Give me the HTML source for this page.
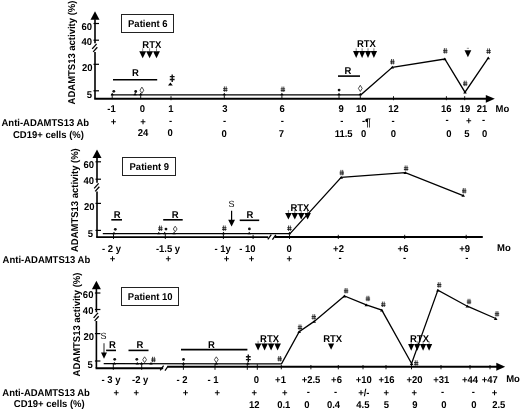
<!DOCTYPE html>
<html><head><meta charset="utf-8"><style>
html,body{margin:0;padding:0;background:#fff;}
svg{display:block;will-change:transform;}
text{font-family:"Liberation Sans",sans-serif;fill:#000;stroke:none;text-rendering:geometricPrecision;}
</style></head><body>
<svg width="520" height="411" viewBox="0 0 520 411" stroke="#000" fill="#000">
<g stroke="none">
</g>
<polygon points="90.5,19.7 99.5,19.7 95,11.2" stroke="none"/>
<line x1="95" y1="19.2" x2="95" y2="43.2" stroke-width="1.6"/>
<line x1="95" y1="52" x2="95" y2="98.5" stroke-width="1.6"/>
<line x1="92.2" y1="48.9" x2="96.6" y2="43.9" stroke-width="1.3"/>
<line x1="93.2" y1="51.9" x2="97.3" y2="47.3" stroke-width="1.3"/>
<line x1="93.5" y1="23.5" x2="99" y2="23.5" stroke-width="1.2"/>
<line x1="93.5" y1="40.2" x2="99" y2="40.2" stroke-width="1.2"/>
<line x1="93.5" y1="64.3" x2="99" y2="64.3" stroke-width="1.2"/>
<line x1="93.5" y1="90.8" x2="99" y2="90.8" stroke-width="1.2"/>
<text transform="translate(92,29.7) scale(0.96,1)" text-anchor="end" font-size="9.9" font-weight="bold">60</text>
<text transform="translate(92,45.2) scale(0.96,1)" text-anchor="end" font-size="9.9" font-weight="bold">40</text>
<text transform="translate(92.6,70.5) scale(0.96,1)" text-anchor="end" font-size="9.9" font-weight="bold">20</text>
<text transform="translate(92,97.7) scale(0.96,1)" text-anchor="end" font-size="9.9" font-weight="bold">5</text>
<text transform="translate(74.8,104.4) rotate(-90) scale(0.96,1)" font-size="9.9" font-weight="bold">ADAMTS13 activity (%)</text>
<line x1="94.2" y1="98.8" x2="487" y2="98.8" stroke-width="2"/>
<polygon points="485.8,95.0 485.8,102.8 494.8,98.8" stroke="none"/>
<rect x="121.5" y="14.5" width="52" height="18" fill="none" stroke="#222" stroke-width="1"/>
<text transform="translate(147.8,27.2) scale(0.96,1)" text-anchor="middle" font-size="9.9" font-weight="bold">Patient 6</text>
<text transform="translate(151.8,47.5) scale(0.96,1)" text-anchor="middle" font-size="9.9" font-weight="bold">RTX</text>
<polygon points="139.25,51.2 146.14999999999998,51.2 142.7,58.2" stroke="none"/>
<polygon points="146.15,51.2 153.04999999999998,51.2 149.6,58.2" stroke="none"/>
<polygon points="153.05,51.2 159.95,51.2 156.5,58.2" stroke="none"/>
<line x1="142.7" y1="48.3" x2="142.7" y2="51.3" stroke-width="0.5"/>
<line x1="149.6" y1="48.3" x2="149.6" y2="51.3" stroke-width="0.5"/>
<line x1="156.5" y1="48.3" x2="156.5" y2="51.3" stroke-width="0.5"/>
<text transform="translate(135.4,76.1) scale(0.96,1)" text-anchor="middle" font-size="9.9" font-weight="bold">R</text>
<line x1="113" y1="79.8" x2="157.2" y2="79.8" stroke-width="1.6"/>
<path d="M172.2,74.4V82.0M169.79999999999998,76.604H174.6M169.79999999999998,79.492H174.6" stroke="#111" stroke-width="1.4" fill="none"/>
<polygon points="168.0,85.6 172.8,85.6 170.4,82.6" stroke="none"/>
<text transform="translate(366.4,47.1) scale(0.96,1)" text-anchor="middle" font-size="9.9" font-weight="bold">RTX</text>
<polygon points="353.05,51 359.34999999999997,51 356.2,58.1" stroke="none"/>
<polygon points="358.95000000000005,51 365.25,51 362.1,58.1" stroke="none"/>
<polygon points="364.85,51 371.15,51 368.0,58.1" stroke="none"/>
<polygon points="370.75,51 377.04999999999995,51 373.9,58.1" stroke="none"/>
<line x1="356.2" y1="48.3" x2="356.2" y2="51.1" stroke-width="0.5"/>
<line x1="362.1" y1="48.3" x2="362.1" y2="51.1" stroke-width="0.5"/>
<line x1="368.0" y1="48.3" x2="368.0" y2="51.1" stroke-width="0.5"/>
<line x1="373.9" y1="48.3" x2="373.9" y2="51.1" stroke-width="0.5"/>
<text transform="translate(347.8,74.3) scale(0.96,1)" text-anchor="middle" font-size="9.9" font-weight="bold">R</text>
<line x1="338" y1="76.1" x2="360" y2="76.1" stroke-width="1.6"/>
<line x1="466.8" y1="48.3" x2="469" y2="48.3" stroke="#888" stroke-width="0.9"/>
<polygon points="464.5,50.3 471.29999999999995,50.3 467.9,57.199999999999996" stroke="none"/>
<polyline points="111.0,94.8 360.9,94.8 392.3,67.3 444.8,59.0 465.0,92.2 488.3,57.9" fill="none" stroke-width="1.3" stroke-linejoin="miter"/>
<polygon points="110.5,95.3 113.9,95.3 112.2,92.8" stroke="none"/>
<polygon points="133.4,95.3 136.79999999999998,95.3 135.1,92.8" stroke="none"/>
<polygon points="139.0,95.3 142.39999999999998,95.3 140.7,92.8" stroke="none"/>
<polygon points="222.60000000000002,95.3 226.0,95.3 224.3,92.8" stroke="none"/>
<polygon points="280.2,95.3 283.59999999999997,95.3 281.9,92.8" stroke="none"/>
<polygon points="337.3,95.3 340.7,95.3 339,92.8" stroke="none"/>
<polygon points="358.6,95.3 362.0,95.3 360.3,92.8" stroke="none"/>
<polygon points="390.5,68.6 394.1,68.6 392.3,65.8" stroke="none"/>
<polygon points="443.0,60.2 446.6,60.2 444.8,57.400000000000006" stroke="none"/>
<polygon points="463.2,93.6 466.8,93.6 465.0,90.8" stroke="none"/>
<polygon points="486.5,59.2 490.1,59.2 488.3,56.400000000000006" stroke="none"/>
<circle cx="113.8" cy="91.3" r="1.4" fill="#111" stroke="none"/>
<circle cx="135.7" cy="91.5" r="1.4" fill="#111" stroke="none"/>
<path d="M141.9,87.1L143.8,90.19999999999999L141.9,93.3L140.0,90.19999999999999Z" stroke="#222" stroke-width="0.8" fill="none"/>
<path d="M224.4,86.39999999999999V91.8M226.20000000000002,86.39999999999999V91.8" stroke="#1a1a1a" stroke-width="0.8" fill="none"/>
<path d="M223.10000000000002,88.66799999999999H227.5M223.10000000000002,90.39599999999999H227.5" stroke="#1a1a1a" stroke-width="0.9" fill="none"/>
<path d="M282.0,86.6V92.0M283.79999999999995,86.6V92.0" stroke="#1a1a1a" stroke-width="0.8" fill="none"/>
<path d="M280.7,88.868H285.09999999999997M280.7,90.59599999999999H285.09999999999997" stroke="#1a1a1a" stroke-width="0.9" fill="none"/>
<circle cx="339.1" cy="90.1" r="1.4" fill="#111" stroke="none"/>
<path d="M360.3,85.3L362.2,88.39999999999999L360.3,91.5L358.40000000000003,88.39999999999999Z" stroke="#222" stroke-width="0.8" fill="none"/>
<path d="M391.5,59.00000000000001V64.4M393.29999999999995,59.00000000000001V64.4" stroke="#1a1a1a" stroke-width="0.8" fill="none"/>
<path d="M390.2,61.26800000000001H394.59999999999997M390.2,62.99600000000001H394.59999999999997" stroke="#1a1a1a" stroke-width="0.9" fill="none"/>
<path d="M444.40000000000003,48.1V53.5M446.2,48.1V53.5" stroke="#1a1a1a" stroke-width="0.8" fill="none"/>
<path d="M443.1,50.368H447.5M443.1,52.096000000000004H447.5" stroke="#1a1a1a" stroke-width="0.9" fill="none"/>
<path d="M464.3,80.69999999999999V86.1M466.09999999999997,80.69999999999999V86.1" stroke="#1a1a1a" stroke-width="0.8" fill="none"/>
<path d="M463.0,82.96799999999999H467.4M463.0,84.69599999999998H467.4" stroke="#1a1a1a" stroke-width="0.9" fill="none"/>
<path d="M487.70000000000005,48.4V53.8M489.5,48.4V53.8" stroke="#1a1a1a" stroke-width="0.8" fill="none"/>
<path d="M486.40000000000003,50.668H490.8M486.40000000000003,52.396H490.8" stroke="#1a1a1a" stroke-width="0.9" fill="none"/>
<line x1="112.2" y1="95.2" x2="112.2" y2="99.2" stroke-width="0.9"/>
<line x1="140.7" y1="95.2" x2="140.7" y2="99.2" stroke-width="0.9"/>
<line x1="224.3" y1="95.2" x2="224.3" y2="99.2" stroke-width="0.9"/>
<line x1="281.9" y1="95.2" x2="281.9" y2="99.2" stroke-width="0.9"/>
<line x1="339" y1="95.2" x2="339" y2="99.2" stroke-width="0.9"/>
<line x1="360.3" y1="95.2" x2="360.3" y2="99.2" stroke-width="0.9"/>
<line x1="171" y1="96.2" x2="171" y2="100.2" stroke-width="0.9"/>
<line x1="393.5" y1="96.2" x2="393.5" y2="100.2" stroke-width="0.9"/>
<line x1="446.4" y1="96.2" x2="446.4" y2="100.2" stroke-width="0.9"/>
<line x1="464.7" y1="96.2" x2="464.7" y2="100.2" stroke-width="0.9"/>
<text transform="translate(111.5,112.0) scale(0.96,1)" text-anchor="middle" font-size="9.9" font-weight="bold">-1</text>
<text transform="translate(142.3,112.0) scale(0.96,1)" text-anchor="middle" font-size="9.9" font-weight="bold">0</text>
<text transform="translate(171,112.0) scale(0.96,1)" text-anchor="middle" font-size="9.9" font-weight="bold">1</text>
<text transform="translate(225,111.5) scale(0.96,1)" text-anchor="middle" font-size="9.9" font-weight="bold">3</text>
<text transform="translate(282.2,111.5) scale(0.96,1)" text-anchor="middle" font-size="9.9" font-weight="bold">6</text>
<text transform="translate(341.1,111.5) scale(0.96,1)" text-anchor="middle" font-size="9.9" font-weight="bold">9</text>
<text transform="translate(361.3,111.5) scale(0.96,1)" text-anchor="middle" font-size="9.9" font-weight="bold">10</text>
<text transform="translate(393.6,112.2) scale(0.96,1)" text-anchor="middle" font-size="9.9" font-weight="bold">12</text>
<text transform="translate(446.2,111.5) scale(0.96,1)" text-anchor="middle" font-size="9.9" font-weight="bold">16</text>
<text transform="translate(464.9,111.5) scale(0.96,1)" text-anchor="middle" font-size="9.9" font-weight="bold">19</text>
<text transform="translate(481.9,112.2) scale(0.96,1)" text-anchor="middle" font-size="9.9" font-weight="bold">21</text>
<text transform="translate(495.6,111.8) scale(0.96,1)" text-anchor="start" font-size="9.9" font-weight="bold">Mo</text>
<text transform="translate(1.5,126.0) scale(0.96,1)" text-anchor="start" font-size="9.9" font-weight="bold">Anti-ADAMTS13 Ab</text>
<text transform="translate(13,137.5) scale(0.96,1)" text-anchor="start" font-size="9.9" font-weight="bold">CD19+ cells (%)</text>
<text transform="translate(113.5,124.9) scale(0.96,1)" text-anchor="middle" font-size="9.9" font-weight="bold">+</text>
<text transform="translate(143.1,124.9) scale(0.96,1)" text-anchor="middle" font-size="9.9" font-weight="bold">+</text>
<text transform="translate(170.5,124.3) scale(0.96,1)" text-anchor="middle" font-size="9.9" font-weight="bold">-</text>
<text transform="translate(224.6,124.3) scale(0.96,1)" text-anchor="middle" font-size="9.9" font-weight="bold">-</text>
<text transform="translate(282.2,124.3) scale(0.96,1)" text-anchor="middle" font-size="9.9" font-weight="bold">-</text>
<text transform="translate(341.7,124.3) scale(0.96,1)" text-anchor="middle" font-size="9.9" font-weight="bold">-</text>
<text transform="translate(393,124.3) scale(0.96,1)" text-anchor="middle" font-size="9.9" font-weight="bold">-</text>
<text transform="translate(447,123.1) scale(0.96,1)" text-anchor="middle" font-size="9.9" font-weight="bold">-</text>
<text transform="translate(468.7,123.7) scale(0.96,1)" text-anchor="middle" font-size="9.9" font-weight="bold">+</text>
<text transform="translate(483.5,123.1) scale(0.96,1)" text-anchor="middle" font-size="9.9" font-weight="bold">-</text>
<text transform="translate(363.5,124.4) scale(0.96,1)" text-anchor="middle" font-size="9.9" font-weight="bold">-</text>
<text transform="translate(365.0,125.7) scale(0.96,1)" text-anchor="start" font-size="10.83" font-weight="bold">¶</text>
<text transform="translate(143,136.4) scale(0.96,1)" text-anchor="middle" font-size="9.9" font-weight="bold">24</text>
<text transform="translate(170.2,136.4) scale(0.96,1)" text-anchor="middle" font-size="9.9" font-weight="bold">0</text>
<text transform="translate(224.1,137.1) scale(0.96,1)" text-anchor="middle" font-size="9.9" font-weight="bold">0</text>
<text transform="translate(281.5,137.1) scale(0.96,1)" text-anchor="middle" font-size="9.9" font-weight="bold">7</text>
<text transform="translate(343.6,137.1) scale(0.96,1)" text-anchor="middle" font-size="9.9" font-weight="bold">11.5</text>
<text transform="translate(363.6,137.1) scale(0.96,1)" text-anchor="middle" font-size="9.9" font-weight="bold">0</text>
<text transform="translate(393.4,137.1) scale(0.96,1)" text-anchor="middle" font-size="9.9" font-weight="bold">0</text>
<text transform="translate(449,137.1) scale(0.96,1)" text-anchor="middle" font-size="9.9" font-weight="bold">0</text>
<text transform="translate(467,137.1) scale(0.96,1)" text-anchor="middle" font-size="9.9" font-weight="bold">5</text>
<text transform="translate(484.6,137.1) scale(0.96,1)" text-anchor="middle" font-size="9.9" font-weight="bold">0</text>
<polygon points="92.5,158.0 101.5,158.0 97,149.5" stroke="none"/>
<line x1="97" y1="157.5" x2="97" y2="182.7" stroke-width="1.6"/>
<line x1="97" y1="191.5" x2="97" y2="237.2" stroke-width="1.6"/>
<line x1="94.2" y1="188.4" x2="98.6" y2="183.4" stroke-width="1.3"/>
<line x1="95.2" y1="191.4" x2="99.3" y2="186.8" stroke-width="1.3"/>
<line x1="95.5" y1="161.8" x2="101" y2="161.8" stroke-width="1.2"/>
<line x1="95.5" y1="179.2" x2="101" y2="179.2" stroke-width="1.2"/>
<line x1="95.5" y1="203.4" x2="101" y2="203.4" stroke-width="1.2"/>
<line x1="95.5" y1="230.4" x2="101" y2="230.4" stroke-width="1.2"/>
<text transform="translate(94,168.20000000000002) scale(0.96,1)" text-anchor="end" font-size="9.9" font-weight="bold">60</text>
<text transform="translate(94,184.4) scale(0.96,1)" text-anchor="end" font-size="9.9" font-weight="bold">40</text>
<text transform="translate(94.6,209.8) scale(0.96,1)" text-anchor="end" font-size="9.9" font-weight="bold">20</text>
<text transform="translate(93,237.29999999999998) scale(0.96,1)" text-anchor="end" font-size="9.9" font-weight="bold">5</text>
<text transform="translate(77.9,252.0) rotate(-90) scale(0.96,1)" font-size="9.9" font-weight="bold">ADAMTS13 activity (%)</text>
<line x1="96.2" y1="237.2" x2="268.2" y2="237.2" stroke-width="1.8"/>
<line x1="274.6" y1="237.0" x2="482.8" y2="237.0" stroke-width="1.8"/>
<rect x="122.5" y="157.5" width="53" height="18" fill="none" stroke="#222" stroke-width="1"/>
<text transform="translate(149.3,170.4) scale(0.96,1)" text-anchor="middle" font-size="9.9" font-weight="bold">Patient 9</text>
<text transform="translate(117.2,218) scale(0.96,1)" text-anchor="middle" font-size="9.9" font-weight="bold">R</text>
<line x1="111.3" y1="219.8" x2="122" y2="219.8" stroke-width="1.6"/>
<text transform="translate(175.1,218) scale(0.96,1)" text-anchor="middle" font-size="9.9" font-weight="bold">R</text>
<line x1="163.2" y1="219.8" x2="182.7" y2="219.8" stroke-width="1.6"/>
<text x="231.6" y="206.9" text-anchor="middle" font-size="9" font-weight="normal">S</text>
<line x1="231.6" y1="210.8" x2="231.6" y2="221" stroke-width="1.2"/>
<polygon points="228.2,219.8 235.0,219.8 231.6,226.60000000000002" stroke="none"/>
<text transform="translate(250,218.1) scale(0.96,1)" text-anchor="middle" font-size="9.9" font-weight="bold">R</text>
<line x1="239.7" y1="220.3" x2="259.2" y2="220.3" stroke-width="1.6"/>
<text transform="translate(299.9,211.4) scale(0.96,1)" text-anchor="middle" font-size="9.9" font-weight="bold">RTX</text>
<polygon points="285.09999999999997,212.9 291.7,212.9 288.4,219.6" stroke="none"/>
<polygon points="291.5,212.9 298.1,212.9 294.8,219.6" stroke="none"/>
<polygon points="297.9,212.9 304.5,212.9 301.2,219.6" stroke="none"/>
<polygon points="304.3,212.9 310.90000000000003,212.9 307.6,219.6" stroke="none"/>
<line x1="288.4" y1="210" x2="288.4" y2="213" stroke-width="0.5"/>
<line x1="294.8" y1="210" x2="294.8" y2="213" stroke-width="0.5"/>
<line x1="301.2" y1="210" x2="301.2" y2="213" stroke-width="0.5"/>
<line x1="307.6" y1="210" x2="307.6" y2="213" stroke-width="0.5"/>
<polyline points="102.8,233.7 290,233.7 341.2,177.4 405.3,172.6 463.2,195.6" fill="none" stroke-width="1.3" stroke-linejoin="miter"/>
<line x1="267.8" y1="239.4" x2="271.3" y2="234.6" stroke-width="1.3"/>
<line x1="272.4" y1="239.6" x2="275.9" y2="234.8" stroke-width="1.3"/>
<polygon points="112.3,234.3 115.7,234.3 114,231.8" stroke="none"/>
<polygon points="157.10000000000002,234.3 160.5,234.3 158.8,231.8" stroke="none"/>
<polygon points="163.0,234.3 166.39999999999998,234.3 164.7,231.8" stroke="none"/>
<polygon points="172.4,234.3 175.79999999999998,234.3 174.1,231.8" stroke="none"/>
<polygon points="221.8,234.3 225.2,234.3 223.5,231.8" stroke="none"/>
<polygon points="247.5,234.3 250.89999999999998,234.3 249.2,231.8" stroke="none"/>
<polygon points="287.8,234.3 291.2,234.3 289.5,231.8" stroke="none"/>
<polygon points="339.4,178.8 343.0,178.8 341.2,176.0" stroke="none"/>
<polygon points="403.5,174 407.1,174 405.3,171.2" stroke="none"/>
<polygon points="461.4,196.8 465.0,196.8 463.2,194.0" stroke="none"/>
<circle cx="115.3" cy="229.3" r="1.4" fill="#111" stroke="none"/>
<path d="M159.5,225.6V231.0M161.3,225.6V231.0" stroke="#1a1a1a" stroke-width="0.8" fill="none"/>
<path d="M158.20000000000002,227.868H162.6M158.20000000000002,229.596H162.6" stroke="#1a1a1a" stroke-width="0.9" fill="none"/>
<circle cx="166" cy="229.1" r="1.4" fill="#111" stroke="none"/>
<path d="M175.2,226.2L177.1,229.0L175.2,231.79999999999998L173.29999999999998,229.0Z" stroke="#222" stroke-width="0.8" fill="none"/>
<path d="M223.4,225.5V230.9M225.20000000000002,225.5V230.9" stroke="#1a1a1a" stroke-width="0.8" fill="none"/>
<path d="M222.10000000000002,227.768H226.5M222.10000000000002,229.496H226.5" stroke="#1a1a1a" stroke-width="0.9" fill="none"/>
<circle cx="249.4" cy="228.9" r="1.4" fill="#111" stroke="none"/>
<path d="M288.5,225.5V230.9M290.29999999999995,225.5V230.9" stroke="#1a1a1a" stroke-width="0.8" fill="none"/>
<path d="M287.2,227.768H291.59999999999997M287.2,229.496H291.59999999999997" stroke="#1a1a1a" stroke-width="0.9" fill="none"/>
<path d="M340.90000000000003,169.9V175.3M342.7,169.9V175.3" stroke="#1a1a1a" stroke-width="0.8" fill="none"/>
<path d="M339.6,172.168H344.0M339.6,173.89600000000002H344.0" stroke="#1a1a1a" stroke-width="0.9" fill="none"/>
<path d="M405.20000000000005,165.5V170.9M407.0,165.5V170.9" stroke="#1a1a1a" stroke-width="0.8" fill="none"/>
<path d="M403.90000000000003,167.768H408.3M403.90000000000003,169.496H408.3" stroke="#1a1a1a" stroke-width="0.9" fill="none"/>
<path d="M463.3,188.0V193.4M465.09999999999997,188.0V193.4" stroke="#1a1a1a" stroke-width="0.8" fill="none"/>
<path d="M462.0,190.268H466.4M462.0,191.996H466.4" stroke="#1a1a1a" stroke-width="0.9" fill="none"/>
<line x1="113.5" y1="234.2" x2="113.5" y2="239" stroke-width="0.9"/>
<line x1="165.3" y1="234.2" x2="165.3" y2="239" stroke-width="0.9"/>
<line x1="223.4" y1="234.2" x2="223.4" y2="239" stroke-width="0.9"/>
<line x1="289.5" y1="234.2" x2="289.5" y2="239" stroke-width="0.9"/>
<line x1="253.1" y1="234.8" x2="253.1" y2="239" stroke-width="0.9"/>
<line x1="338.3" y1="234.8" x2="338.3" y2="239" stroke-width="0.9"/>
<line x1="404.7" y1="234.8" x2="404.7" y2="239" stroke-width="0.9"/>
<line x1="466.2" y1="234.8" x2="466.2" y2="239" stroke-width="0.9"/>
<text transform="translate(111.5,251.6) scale(0.96,1)" text-anchor="middle" font-size="9.9" font-weight="bold">- 2 y</text>
<text transform="translate(168,251.6) scale(0.96,1)" text-anchor="middle" font-size="9.9" font-weight="bold">-1.5 y</text>
<text transform="translate(222.6,251.6) scale(0.96,1)" text-anchor="middle" font-size="9.9" font-weight="bold">- 1y</text>
<text transform="translate(247.3,251.6) scale(0.96,1)" text-anchor="middle" font-size="9.9" font-weight="bold">- 10</text>
<text transform="translate(289.2,251.6) scale(0.96,1)" text-anchor="middle" font-size="9.9" font-weight="bold">0</text>
<text transform="translate(338.5,251.6) scale(0.96,1)" text-anchor="middle" font-size="9.9" font-weight="bold">+2</text>
<text transform="translate(403,251.6) scale(0.96,1)" text-anchor="middle" font-size="9.9" font-weight="bold">+6</text>
<text transform="translate(464.6,251.6) scale(0.96,1)" text-anchor="middle" font-size="9.9" font-weight="bold">+9</text>
<text transform="translate(497,250.8) scale(0.96,1)" text-anchor="start" font-size="9.9" font-weight="bold">Mo</text>
<text transform="translate(2.6,263.4) scale(0.96,1)" text-anchor="start" font-size="9.9" font-weight="bold">Anti-ADAMTS13 Ab</text>
<text transform="translate(112.6,262.2) scale(0.96,1)" text-anchor="middle" font-size="9.9" font-weight="bold">+</text>
<text transform="translate(168.2,262.2) scale(0.96,1)" text-anchor="middle" font-size="9.9" font-weight="bold">+</text>
<text transform="translate(226.4,262.2) scale(0.96,1)" text-anchor="middle" font-size="9.9" font-weight="bold">+</text>
<text transform="translate(251.5,262.2) scale(0.96,1)" text-anchor="middle" font-size="9.9" font-weight="bold">+</text>
<text transform="translate(289.3,262.2) scale(0.96,1)" text-anchor="middle" font-size="9.9" font-weight="bold">+</text>
<text transform="translate(340,261.2) scale(0.96,1)" text-anchor="middle" font-size="9.9" font-weight="bold">-</text>
<text transform="translate(404.6,261.2) scale(0.96,1)" text-anchor="middle" font-size="9.9" font-weight="bold">-</text>
<text transform="translate(466.9,261.2) scale(0.96,1)" text-anchor="middle" font-size="9.9" font-weight="bold">-</text>
<polygon points="91.9,289.3 100.9,289.3 96.4,280.8" stroke="none"/>
<line x1="96.4" y1="288.8" x2="96.4" y2="312.2" stroke-width="1.6"/>
<line x1="96.4" y1="321" x2="96.4" y2="368.2" stroke-width="1.6"/>
<line x1="93.60000000000001" y1="317.9" x2="98.0" y2="312.9" stroke-width="1.3"/>
<line x1="94.60000000000001" y1="320.9" x2="98.7" y2="316.3" stroke-width="1.3"/>
<line x1="94.9" y1="293" x2="100.4" y2="293" stroke-width="1.2"/>
<line x1="94.9" y1="309.5" x2="100.4" y2="309.5" stroke-width="1.2"/>
<line x1="94.9" y1="333.6" x2="100.4" y2="333.6" stroke-width="1.2"/>
<line x1="94.9" y1="361" x2="100.4" y2="361" stroke-width="1.2"/>
<text transform="translate(93.4,298.4) scale(0.96,1)" text-anchor="end" font-size="9.9" font-weight="bold">60</text>
<text transform="translate(93.4,314.2) scale(0.96,1)" text-anchor="end" font-size="9.9" font-weight="bold">40</text>
<text transform="translate(94.0,339.8) scale(0.96,1)" text-anchor="end" font-size="9.9" font-weight="bold">20</text>
<text transform="translate(92.9,367.7) scale(0.96,1)" text-anchor="end" font-size="9.9" font-weight="bold">5</text>
<text transform="translate(80.0,376.4) rotate(-90) scale(0.96,1)" font-size="9.9" font-weight="bold">ADAMTS13 activity (%)</text>
<line x1="95.6" y1="368.2" x2="163.2" y2="368.2" stroke-width="1.9"/>
<line x1="167.4" y1="366.7" x2="497" y2="366.7" stroke-width="1.9"/>
<polygon points="496.3,362.8 496.3,370.8 505.2,366.8" stroke="none"/>
<rect x="121.5" y="287.5" width="57" height="18" fill="none" stroke="#222" stroke-width="1"/>
<text transform="translate(150.2,300.1) scale(0.96,1)" text-anchor="middle" font-size="9.9" font-weight="bold">Patient 10</text>
<text x="103.6" y="339.2" text-anchor="middle" font-size="9" font-weight="normal">S</text>
<line x1="104" y1="343.2" x2="104" y2="353" stroke="#555" stroke-width="1.3"/>
<polygon points="101.0,352.6 107.0,352.6 104,358.8" stroke="none"/>
<text transform="translate(112.4,348.3) scale(0.96,1)" text-anchor="middle" font-size="9.9" font-weight="bold">R</text>
<line x1="106.1" y1="350.4" x2="116.0" y2="350.4" stroke-width="1.6"/>
<text transform="translate(139.8,348.3) scale(0.96,1)" text-anchor="middle" font-size="9.9" font-weight="bold">R</text>
<line x1="128.5" y1="350.4" x2="148.5" y2="350.4" stroke-width="1.6"/>
<text transform="translate(211.5,348.3) scale(0.96,1)" text-anchor="middle" font-size="9.9" font-weight="bold">R</text>
<line x1="181" y1="349.6" x2="247.4" y2="349.6" stroke-width="1.6"/>
<text transform="translate(269.6,342.1) scale(0.96,1)" text-anchor="middle" font-size="9.9" font-weight="bold">RTX</text>
<polygon points="254.8,343.5 261.40000000000003,343.5 258.1,350.4" stroke="none"/>
<polygon points="261.3,343.5 267.90000000000003,343.5 264.6,350.4" stroke="none"/>
<polygon points="267.8,343.5 274.40000000000003,343.5 271.1,350.4" stroke="none"/>
<polygon points="274.3,343.5 280.90000000000003,343.5 277.6,350.4" stroke="none"/>
<line x1="258.1" y1="340.8" x2="258.1" y2="343.6" stroke-width="0.5"/>
<line x1="264.6" y1="340.8" x2="264.6" y2="343.6" stroke-width="0.5"/>
<line x1="271.1" y1="340.8" x2="271.1" y2="343.6" stroke-width="0.5"/>
<line x1="277.6" y1="340.8" x2="277.6" y2="343.6" stroke-width="0.5"/>
<text transform="translate(332.7,342.0) scale(0.96,1)" text-anchor="middle" font-size="9.9" font-weight="bold">RTX</text>
<polygon points="328.0,343.6 334.20000000000005,343.6 331.1,349.8" stroke="none"/>
<text transform="translate(419.5,341.9) scale(0.96,1)" text-anchor="middle" font-size="9.9" font-weight="bold">RTX</text>
<polygon points="408.09999999999997,343.9 414.3,343.9 411.2,350.79999999999995" stroke="none"/>
<polygon points="414.09999999999997,343.9 420.3,343.9 417.2,350.79999999999995" stroke="none"/>
<polygon points="420.0,343.9 426.20000000000005,343.9 423.1,350.79999999999995" stroke="none"/>
<polygon points="426.0,343.9 432.20000000000005,343.9 429.1,350.79999999999995" stroke="none"/>
<line x1="411.2" y1="341.2" x2="411.2" y2="344" stroke-width="0.5"/>
<line x1="417.2" y1="341.2" x2="417.2" y2="344" stroke-width="0.5"/>
<line x1="423.1" y1="341.2" x2="423.1" y2="344" stroke-width="0.5"/>
<line x1="429.1" y1="341.2" x2="429.1" y2="344" stroke-width="0.5"/>
<polyline points="103.7,363.6 281.5,363.9 299.2,331.6 314.2,321.4 344.4,296 366.3,304.8 381.8,310.1 411.6,363.5 437.9,290.1 467.3,306.2 495.7,318.5" fill="none" stroke-width="1.3" stroke-linejoin="miter"/>
<line x1="160.2" y1="370.3" x2="163.6" y2="365.7" stroke-width="1.3"/>
<line x1="165.0" y1="370.6" x2="168.2" y2="366.0" stroke-width="1.3"/>
<polygon points="112.6,364.4 116.0,364.4 114.3,361.9" stroke="none"/>
<polygon points="135.60000000000002,364.4 139.0,364.4 137.3,361.9" stroke="none"/>
<polygon points="139.8,364.4 143.2,364.4 141.5,361.9" stroke="none"/>
<polygon points="149.3,364.4 152.7,364.4 151,361.9" stroke="none"/>
<polygon points="181.8,364.4 185.2,364.4 183.5,361.9" stroke="none"/>
<polygon points="214.60000000000002,364.4 218.0,364.4 216.3,361.9" stroke="none"/>
<polygon points="246.20000000000002,364.4 249.6,364.4 247.9,361.9" stroke="none"/>
<polygon points="297.4,333 301.0,333 299.2,330.2" stroke="none"/>
<polygon points="312.4,322.8 316.0,322.8 314.2,320.0" stroke="none"/>
<polygon points="342.59999999999997,297.4 346.2,297.4 344.4,294.59999999999997" stroke="none"/>
<polygon points="364.5,306.2 368.1,306.2 366.3,303.4" stroke="none"/>
<polygon points="380.0,311.5 383.6,311.5 381.8,308.7" stroke="none"/>
<polygon points="409.8,365 413.40000000000003,365 411.6,362.2" stroke="none"/>
<polygon points="436.09999999999997,291.5 439.7,291.5 437.9,288.7" stroke="none"/>
<polygon points="465.5,307.6 469.1,307.6 467.3,304.8" stroke="none"/>
<polygon points="493.9,319.9 497.5,319.9 495.7,317.09999999999997" stroke="none"/>
<circle cx="114.7" cy="359.3" r="1.4" fill="#111" stroke="none"/>
<circle cx="136.8" cy="359.3" r="1.4" fill="#111" stroke="none"/>
<path d="M144.6,356.8L146.5,359.7L144.6,362.6L142.7,359.7Z" stroke="#222" stroke-width="0.8" fill="none"/>
<path d="M152.5,356.8V362.2M154.3,356.8V362.2" stroke="#1a1a1a" stroke-width="0.8" fill="none"/>
<path d="M151.20000000000002,359.068H155.6M151.20000000000002,360.796H155.6" stroke="#1a1a1a" stroke-width="0.9" fill="none"/>
<circle cx="183.5" cy="359.4" r="1.4" fill="#111" stroke="none"/>
<path d="M216.3,356.8L218.20000000000002,359.7L216.3,362.6L214.4,359.7Z" stroke="#222" stroke-width="0.8" fill="none"/>
<path d="M248.3,354.5V362.1M245.9,356.704H250.70000000000002M245.9,359.592H250.70000000000002" stroke="#111" stroke-width="1.4" fill="none"/>
<path d="M278.8,356.0V361.4M280.59999999999997,356.0V361.4" stroke="#1a1a1a" stroke-width="0.8" fill="none"/>
<path d="M277.5,358.268H281.9M277.5,359.996H281.9" stroke="#1a1a1a" stroke-width="0.9" fill="none"/>
<path d="M299.1,324.5V329.9M300.9,324.5V329.9" stroke="#1a1a1a" stroke-width="0.8" fill="none"/>
<path d="M297.8,326.768H302.2M297.8,328.496H302.2" stroke="#1a1a1a" stroke-width="0.9" fill="none"/>
<path d="M312.90000000000003,314.20000000000005V319.6M314.7,314.20000000000005V319.6" stroke="#1a1a1a" stroke-width="0.8" fill="none"/>
<path d="M311.6,316.468H316.0M311.6,318.196H316.0" stroke="#1a1a1a" stroke-width="0.9" fill="none"/>
<path d="M345.20000000000005,288.0V293.4M347.0,288.0V293.4" stroke="#1a1a1a" stroke-width="0.8" fill="none"/>
<path d="M343.90000000000003,290.268H348.3M343.90000000000003,291.996H348.3" stroke="#1a1a1a" stroke-width="0.9" fill="none"/>
<path d="M367.0,295.8V301.2M368.79999999999995,295.8V301.2" stroke="#1a1a1a" stroke-width="0.8" fill="none"/>
<path d="M365.7,298.068H370.09999999999997M365.7,299.796H370.09999999999997" stroke="#1a1a1a" stroke-width="0.9" fill="none"/>
<path d="M382.40000000000003,301.6V307.0M384.2,301.6V307.0" stroke="#1a1a1a" stroke-width="0.8" fill="none"/>
<path d="M381.1,303.868H385.5M381.1,305.596H385.5" stroke="#1a1a1a" stroke-width="0.9" fill="none"/>
<path d="M415.3,360.3V365.7M417.09999999999997,360.3V365.7" stroke="#1a1a1a" stroke-width="0.8" fill="none"/>
<path d="M414.0,362.568H418.4M414.0,364.296H418.4" stroke="#1a1a1a" stroke-width="0.9" fill="none"/>
<path d="M438.3,282.20000000000005V287.6M440.09999999999997,282.20000000000005V287.6" stroke="#1a1a1a" stroke-width="0.8" fill="none"/>
<path d="M437.0,284.468H441.4M437.0,286.196H441.4" stroke="#1a1a1a" stroke-width="0.9" fill="none"/>
<path d="M468.1,298.8V304.2M469.9,298.8V304.2" stroke="#1a1a1a" stroke-width="0.8" fill="none"/>
<path d="M466.8,301.068H471.2M466.8,302.796H471.2" stroke="#1a1a1a" stroke-width="0.9" fill="none"/>
<path d="M496.1,311.1V316.5M497.9,311.1V316.5" stroke="#1a1a1a" stroke-width="0.8" fill="none"/>
<path d="M494.8,313.368H499.2M494.8,315.096H499.2" stroke="#1a1a1a" stroke-width="0.9" fill="none"/>
<line x1="113.3" y1="364.2" x2="113.3" y2="369.8" stroke-width="0.9"/>
<line x1="141.7" y1="364.2" x2="141.7" y2="369.8" stroke-width="0.9"/>
<line x1="183.4" y1="364.2" x2="183.4" y2="369.8" stroke-width="0.9"/>
<line x1="215" y1="364.2" x2="215" y2="369.8" stroke-width="0.9"/>
<line x1="247.3" y1="364.2" x2="247.3" y2="369.8" stroke-width="0.9"/>
<line x1="257.3" y1="364.2" x2="257.3" y2="369.8" stroke-width="0.9"/>
<line x1="281.3" y1="365" x2="281.3" y2="369.3" stroke-width="0.9"/>
<line x1="310.9" y1="365" x2="310.9" y2="369.3" stroke-width="0.9"/>
<line x1="338.3" y1="365" x2="338.3" y2="369.3" stroke-width="0.9"/>
<line x1="363" y1="365" x2="363" y2="369.3" stroke-width="0.9"/>
<line x1="386" y1="365" x2="386" y2="369.3" stroke-width="0.9"/>
<line x1="411.5" y1="365" x2="411.5" y2="369.3" stroke-width="0.9"/>
<line x1="441" y1="365" x2="441" y2="369.3" stroke-width="0.9"/>
<line x1="470" y1="365" x2="470" y2="369.3" stroke-width="0.9"/>
<line x1="490" y1="365" x2="490" y2="369.3" stroke-width="0.9"/>
<text transform="translate(111,383.3) scale(0.96,1)" text-anchor="middle" font-size="9.9" font-weight="bold">- 3 y</text>
<text transform="translate(140.2,383.3) scale(0.96,1)" text-anchor="middle" font-size="9.9" font-weight="bold">-2 y</text>
<text transform="translate(182,383.3) scale(0.96,1)" text-anchor="middle" font-size="9.9" font-weight="bold">- 2</text>
<text transform="translate(213,383.3) scale(0.96,1)" text-anchor="middle" font-size="9.9" font-weight="bold">- 1</text>
<text transform="translate(256.5,383.3) scale(0.96,1)" text-anchor="middle" font-size="9.9" font-weight="bold">0</text>
<text transform="translate(280.5,383.3) scale(0.96,1)" text-anchor="middle" font-size="9.9" font-weight="bold">+1</text>
<text transform="translate(311,383.3) scale(0.96,1)" text-anchor="middle" font-size="9.9" font-weight="bold">+2.5</text>
<text transform="translate(336.5,383.3) scale(0.96,1)" text-anchor="middle" font-size="9.9" font-weight="bold">+6</text>
<text transform="translate(363.7,383.3) scale(0.96,1)" text-anchor="middle" font-size="9.9" font-weight="bold">+10</text>
<text transform="translate(386.6,383.3) scale(0.96,1)" text-anchor="middle" font-size="9.9" font-weight="bold">+16</text>
<text transform="translate(414.5,383.3) scale(0.96,1)" text-anchor="middle" font-size="9.9" font-weight="bold">+20</text>
<text transform="translate(441.2,383.3) scale(0.96,1)" text-anchor="middle" font-size="9.9" font-weight="bold">+31</text>
<text transform="translate(470,383.3) scale(0.96,1)" text-anchor="middle" font-size="9.9" font-weight="bold">+44</text>
<text transform="translate(489.7,383.3) scale(0.96,1)" text-anchor="middle" font-size="9.9" font-weight="bold">+47</text>
<text transform="translate(506.2,382.3) scale(0.96,1)" text-anchor="start" font-size="9.9" font-weight="bold">Mo</text>
<text transform="translate(2.3,395.5) scale(0.96,1)" text-anchor="start" font-size="9.9" font-weight="bold">Anti-ADAMTS13 Ab</text>
<text transform="translate(13.8,407.4) scale(0.96,1)" text-anchor="start" font-size="9.9" font-weight="bold">CD19+ cells (%)</text>
<text transform="translate(116.2,395.8) scale(0.96,1)" text-anchor="middle" font-size="9.9" font-weight="bold">+</text>
<text transform="translate(136.3,395.8) scale(0.96,1)" text-anchor="middle" font-size="9.9" font-weight="bold">+</text>
<text transform="translate(185.4,395.8) scale(0.96,1)" text-anchor="middle" font-size="9.9" font-weight="bold">+</text>
<text transform="translate(217.3,395.8) scale(0.96,1)" text-anchor="middle" font-size="9.9" font-weight="bold">+</text>
<text transform="translate(254.2,395.8) scale(0.96,1)" text-anchor="middle" font-size="9.9" font-weight="bold">+</text>
<text transform="translate(284.8,395.8) scale(0.96,1)" text-anchor="middle" font-size="9.9" font-weight="bold">+</text>
<text transform="translate(308.3,394.8) scale(0.96,1)" text-anchor="middle" font-size="9.9" font-weight="bold">-</text>
<text transform="translate(335.5,394.8) scale(0.96,1)" text-anchor="middle" font-size="9.9" font-weight="bold">-</text>
<text transform="translate(363.8,395.8) scale(0.96,1)" text-anchor="middle" font-size="9.9" font-weight="bold">+/-</text>
<text transform="translate(386.3,395.8) scale(0.96,1)" text-anchor="middle" font-size="9.9" font-weight="bold">+</text>
<text transform="translate(414.3,395.8) scale(0.96,1)" text-anchor="middle" font-size="9.9" font-weight="bold">+</text>
<text transform="translate(442.5,394.8) scale(0.96,1)" text-anchor="middle" font-size="9.9" font-weight="bold">-</text>
<text transform="translate(473.3,394.8) scale(0.96,1)" text-anchor="middle" font-size="9.9" font-weight="bold">-</text>
<text transform="translate(494.5,395.8) scale(0.96,1)" text-anchor="middle" font-size="9.9" font-weight="bold">+</text>
<text transform="translate(254.3,408) scale(0.96,1)" text-anchor="middle" font-size="9.9" font-weight="bold">12</text>
<text transform="translate(283.8,408) scale(0.96,1)" text-anchor="middle" font-size="9.9" font-weight="bold">0.1</text>
<text transform="translate(307,408) scale(0.96,1)" text-anchor="middle" font-size="9.9" font-weight="bold">0</text>
<text transform="translate(333.5,408) scale(0.96,1)" text-anchor="middle" font-size="9.9" font-weight="bold">0.4</text>
<text transform="translate(362.9,408) scale(0.96,1)" text-anchor="middle" font-size="9.9" font-weight="bold">4.5</text>
<text transform="translate(386.3,408) scale(0.96,1)" text-anchor="middle" font-size="9.9" font-weight="bold">5</text>
<text transform="translate(414.8,408) scale(0.96,1)" text-anchor="middle" font-size="9.9" font-weight="bold">9</text>
<text transform="translate(443.8,408) scale(0.96,1)" text-anchor="middle" font-size="9.9" font-weight="bold">0</text>
<text transform="translate(473.8,408) scale(0.96,1)" text-anchor="middle" font-size="9.9" font-weight="bold">0</text>
<text transform="translate(498.8,408) scale(0.96,1)" text-anchor="middle" font-size="9.9" font-weight="bold">2.5</text>
</svg>
</body></html>
